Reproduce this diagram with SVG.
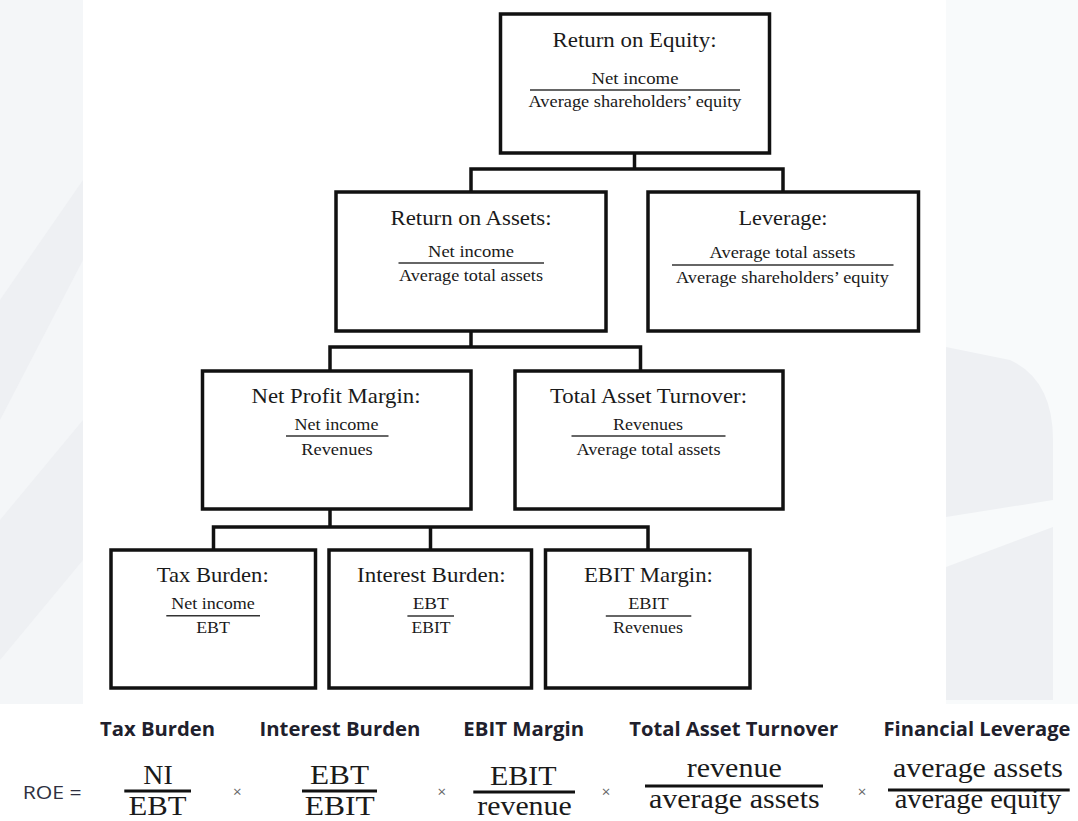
<svg xmlns="http://www.w3.org/2000/svg" width="1078" height="821" viewBox="0 0 1078 821">
<style>
.box{fill:#fff;stroke:#111;stroke-width:3.5}
.conn{fill:none;stroke:#111;stroke-width:3.5;stroke-linejoin:miter}
.t{font-family:"Liberation Serif","Times New Roman",serif;font-size:21px;fill:#1a1a1a;text-anchor:middle}
.s{font-family:"Liberation Serif","Times New Roman",serif;font-size:17px;fill:#1a1a1a;text-anchor:middle}
.fl{stroke:#333;stroke-width:1.4}
.h{font-family:"Open Sans","Liberation Sans",sans-serif;font-weight:bold;font-size:19.5px;fill:#20202c;text-anchor:middle}
.f{font-family:"Liberation Serif","Times New Roman",serif;font-size:27px;fill:#1a1a1a;text-anchor:middle}
.fb{stroke:#111;stroke-width:3}
.x{font-family:"Open Sans","Liberation Sans",sans-serif;font-size:15px;fill:#666;text-anchor:middle}
</style>
<rect x="0" y="0" width="1078" height="821" fill="#ffffff"/>
<g id="background">
<rect x="0" y="0" width="83" height="704" fill="#f4f6f8"/>
<polygon points="0,300 83,180 83,260 0,420" fill="#eef0f3"/>
<polygon points="0,520 83,420 83,560 0,660" fill="#eef0f3"/>
<rect x="946" y="0" width="132" height="704" fill="#f8fafb"/>
<path d="M946 347 L1010 360 Q1053 380 1053 440 L1053 500 L946 517 Z" fill="#eef0f3"/>
<path d="M946 567 L1053 527 L1053 700 L946 700 Z" fill="#eef0f3"/>
</g>
<g id="connectors">
<path class="conn" d="M634.5 153 V169"/>
<path class="conn" d="M471 192 V169 H783 V192"/>
<path class="conn" d="M471 331 V347"/>
<path class="conn" d="M330 371 V347 H640.5 V371"/>
<path class="conn" d="M330 509 V527"/>
<path class="conn" d="M213.5 550 V527 H648 V550"/>
<path class="conn" d="M430.5 527 V550"/>
</g>
<g id="roe">
<rect class="box" x="500.5" y="14" width="269" height="139"/>
<text class="t" x="634.5" y="47" textLength="164" lengthAdjust="spacingAndGlyphs">Return on Equity:</text>
<text class="s" x="635" y="84" textLength="87" lengthAdjust="spacingAndGlyphs">Net income</text>
<line class="fl" x1="530" y1="90" x2="740" y2="90"/>
<text class="s" x="635" y="107" textLength="213" lengthAdjust="spacingAndGlyphs">Average shareholders’ equity</text>
</g>
<g id="roa">
<rect class="box" x="336" y="192" width="270" height="139"/>
<text class="t" x="471" y="225" textLength="161" lengthAdjust="spacingAndGlyphs">Return on Assets:</text>
<text class="s" x="471" y="257" textLength="86" lengthAdjust="spacingAndGlyphs">Net income</text>
<line class="fl" x1="398.5" y1="263" x2="544" y2="263"/>
<text class="s" x="471" y="281" textLength="144" lengthAdjust="spacingAndGlyphs">Average total assets</text>
</g>
<g id="leverage">
<rect class="box" x="648" y="192" width="270.5" height="139"/>
<text class="t" x="783" y="225" textLength="89" lengthAdjust="spacingAndGlyphs">Leverage:</text>
<text class="s" x="782.5" y="258" textLength="146" lengthAdjust="spacingAndGlyphs">Average total assets</text>
<line class="fl" x1="672" y1="265" x2="893.5" y2="265"/>
<text class="s" x="782.5" y="283" textLength="213" lengthAdjust="spacingAndGlyphs">Average shareholders’ equity</text>
</g>
<g id="npm">
<rect class="box" x="202.5" y="371" width="268.5" height="138"/>
<text class="t" x="336" y="403" textLength="169" lengthAdjust="spacingAndGlyphs">Net Profit Margin:</text>
<text class="s" x="336.5" y="430" textLength="84" lengthAdjust="spacingAndGlyphs">Net income</text>
<line class="fl" x1="286" y1="436" x2="388.5" y2="436"/>
<text class="s" x="337" y="455" textLength="71.5" lengthAdjust="spacingAndGlyphs">Revenues</text>
</g>
<g id="tat">
<rect class="box" x="515" y="371" width="268" height="138"/>
<text class="t" x="648.5" y="403" textLength="197" lengthAdjust="spacingAndGlyphs">Total Asset Turnover:</text>
<text class="s" x="648" y="430" textLength="70" lengthAdjust="spacingAndGlyphs">Revenues</text>
<line class="fl" x1="571.5" y1="436" x2="725.5" y2="436"/>
<text class="s" x="648.5" y="455" textLength="144" lengthAdjust="spacingAndGlyphs">Average total assets</text>
</g>
<g id="tax">
<rect class="box" x="111" y="550" width="204.5" height="138"/>
<text class="t" x="212.7" y="582" textLength="112" lengthAdjust="spacingAndGlyphs">Tax Burden:</text>
<text class="s" x="213" y="609" textLength="83.7" lengthAdjust="spacingAndGlyphs">Net income</text>
<line class="fl" x1="166.3" y1="615.7" x2="260" y2="615.7"/>
<text class="s" x="213" y="633" textLength="33.7" lengthAdjust="spacingAndGlyphs">EBT</text>
</g>
<g id="interest">
<rect class="box" x="329" y="550" width="202.5" height="138"/>
<text class="t" x="431.3" y="582" textLength="148.5" lengthAdjust="spacingAndGlyphs">Interest Burden:</text>
<text class="s" x="430.7" y="609" textLength="36" lengthAdjust="spacingAndGlyphs">EBT</text>
<line class="fl" x1="407.4" y1="616" x2="454" y2="616"/>
<text class="s" x="431" y="633" textLength="39" lengthAdjust="spacingAndGlyphs">EBIT</text>
</g>
<g id="ebit">
<rect class="box" x="545.5" y="550" width="204.5" height="138"/>
<text class="t" x="648.4" y="582" textLength="129" lengthAdjust="spacingAndGlyphs">EBIT Margin:</text>
<text class="s" x="648.5" y="609" textLength="40.6" lengthAdjust="spacingAndGlyphs">EBIT</text>
<line class="fl" x1="605.8" y1="616" x2="691.3" y2="616"/>
<text class="s" x="648" y="633" textLength="70" lengthAdjust="spacingAndGlyphs">Revenues</text>
</g>
<g id="formula">
<text class="h" x="157.5" y="736" textLength="115" lengthAdjust="spacingAndGlyphs">Tax Burden</text>
<text class="h" x="340" y="736" textLength="161" lengthAdjust="spacingAndGlyphs">Interest Burden</text>
<text class="h" x="523.7" y="736" textLength="120.7" lengthAdjust="spacingAndGlyphs">EBIT Margin</text>
<text class="h" x="733.7" y="736" textLength="208.7" lengthAdjust="spacingAndGlyphs">Total Asset Turnover</text>
<text class="h" x="977" y="736" textLength="187" lengthAdjust="spacingAndGlyphs">Financial Leverage</text>
<text x="22.7" y="799" font-family="'Open Sans','Liberation Sans',sans-serif" font-size="18" fill="#2e3040" textLength="59" lengthAdjust="spacingAndGlyphs">ROE  =</text>
<text class="f" x="158" y="784" textLength="29.4" lengthAdjust="spacingAndGlyphs">NI</text>
<line class="fb" x1="124.3" y1="791" x2="191" y2="791"/>
<text class="f" x="157.5" y="815" textLength="58" lengthAdjust="spacingAndGlyphs">EBT</text>
<text class="x" x="237.3" y="797">×</text>
<text class="f" x="339.5" y="784" textLength="59" lengthAdjust="spacingAndGlyphs">EBT</text>
<line class="fb" x1="302" y1="791" x2="377" y2="791"/>
<text class="f" x="339.7" y="815" textLength="70" lengthAdjust="spacingAndGlyphs">EBIT</text>
<text class="x" x="441.7" y="797">×</text>
<text class="f" x="523.3" y="785" textLength="66.7" lengthAdjust="spacingAndGlyphs">EBIT</text>
<line class="fb" x1="473.3" y1="792" x2="575" y2="792"/>
<text class="f" x="524.5" y="815" textLength="94.4" lengthAdjust="spacingAndGlyphs">revenue</text>
<text class="x" x="606" y="797">×</text>
<text class="f" x="734.3" y="777" textLength="95" lengthAdjust="spacingAndGlyphs">revenue</text>
<line class="fb" x1="645" y1="786" x2="823" y2="786"/>
<text class="f" x="734.3" y="808" textLength="170.8" lengthAdjust="spacingAndGlyphs">average assets</text>
<text class="x" x="862" y="797">×</text>
<text class="f" x="978" y="777" textLength="170" lengthAdjust="spacingAndGlyphs">average assets</text>
<line class="fb" x1="888" y1="790" x2="1069.7" y2="790"/>
<text class="f" x="978" y="808" textLength="166.6" lengthAdjust="spacingAndGlyphs">average equity</text>
</g>
</svg>
